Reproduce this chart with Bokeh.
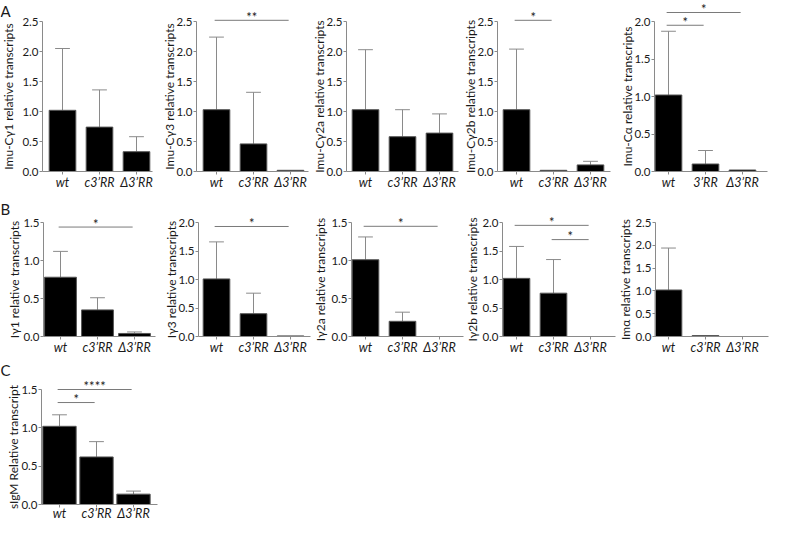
import numpy as np
from bokeh.plotting import figure
from bokeh.layouts import column, row
from bokeh.models import Range1d, FixedTicker, Label, PrintfTickFormatter
from bokeh.core.properties import value
from bokeh.embed import file_html
from bokeh.resources import INLINE

# ---------------- data ----------------
groups = ["wt", "c3\u2019RR", "\u03943\u2019RR"]
groups_alpha = ["wt", "3\u2019RR", "\u03943\u2019RR"]

imu_cg1_mean = [1.02, 0.74, 0.33]
imu_cg1_err = [1.03, 0.62, 0.25]
imu_cg3_mean = [1.03, 0.46, 0.02]
imu_cg3_err = [1.21, 0.86, 0.0]
imu_cg2a_mean = [1.03, 0.58, 0.64]
imu_cg2a_err = [1.00, 0.45, 0.32]
imu_cg2b_mean = [1.03, 0.02, 0.11]
imu_cg2b_err = [1.01, 0.0, 0.06]
imu_ca_mean = [1.02, 0.10, 0.02]
imu_ca_err = [0.85, 0.18, 0.0]

ig1_mean = [0.78, 0.35, 0.04]
ig1_err = [0.34, 0.16, 0.02]
ig3_mean = [1.01, 0.40, 0.01]
ig3_err = [0.65, 0.36, 0.0]
ig2a_mean = [1.01, 0.20, 0.0]
ig2a_err = [0.30, 0.12, 0.0]
ig2b_mean = [1.02, 0.76, 0.0]
ig2b_err = [0.56, 0.59, 0.0]
ima_mean = [1.02, 0.02, 0.0]
ima_err = [0.92, 0.0, 0.0]

sigm_mean = [1.02, 0.62, 0.135]
sigm_err = [0.15, 0.20, 0.04]

# significance brackets: (from group, to group, height, label)
imu_cg3_sig = [(0, 2, 2.52, "**")]
imu_cg2b_sig = [(0, 1, 2.52, "*")]
imu_ca_sig = [(0, 1, 1.95, "*"), (0, 2, 2.12, "*")]
ig1_sig = [(0, 2, 1.44, "*")]
ig3_sig = [(0, 2, 1.93, "*")]
ig2a_sig = [(0, 2, 1.45, "*")]
ig2b_sig = [(0, 2, 1.95, "*"), (1, 2, 1.70, "*")]
ima_sig = []
sigm_sig = [(0, 1, 1.33, "*"), (0, 2, 1.50, "****")]

FONT = "Lato"
ERR_COLOR = "#8a8a8a"
AXIS_COLOR = "#8a8a8a"
TEXT_COLOR = "#1a1a1a"
PX_PER_GROUP = 37.0
STAR_LIFT_PX = 5.5

# geometry of each row (pixels in the picture)
ROW_A = dict(top=0, bottom=194, zero=171, toptick=21, xstand=0)
ROW_B = dict(top=194, bottom=360, zero=336, toptick=222, xstand=0)
ROW_C = dict(top=360, bottom=523, zero=504, toptick=389, xstand=-2)


def panel(ylabel, cats, mean, err, sigs, ytop, ystep, rw,
          left, right, axis_px, c0_px, end_px, barw,
          label_standoff=0, letter=None, letter_top=0):
    width = right - left
    height = rw["bottom"] - rw["top"]
    ppu = (rw["zero"] - rw["toptick"]) / ytop
    ystart = -(rw["bottom"] - rw["zero"]) / ppu
    yend = (rw["zero"] - rw["top"]) / ppu
    xstart = -(c0_px - left) / PX_PER_GROUP
    xend = xstart + width / PX_PER_GROUP
    axis_x = (axis_px - c0_px) / PX_PER_GROUP
    x_end_axis = (end_px - c0_px) / PX_PER_GROUP

    p = figure(width=width, height=height, title=None,
               x_range=Range1d(xstart, xend), y_range=Range1d(ystart, yend),
               output_backend="svg", toolbar_location=None, min_border=0)
    p.outline_line_color = None
    p.xgrid.visible = False
    p.ygrid.visible = False
    p.background_fill_color = None
    p.border_fill_color = None

    xs = list(range(len(cats)))
    ex = [x for x, e in zip(xs, err) if e > 0]
    eb = [m for m, e in zip(mean, err) if e > 0]
    et = [m + e for m, e in zip(mean, err) if e > 0]
    capw = 0.2
    p.segment(ex, eb, ex, et, line_color=ERR_COLOR, line_width=1)
    p.segment([x - capw for x in ex], et, [x + capw for x in ex], et,
              line_color=ERR_COLOR, line_width=1)
    p.vbar(x=xs, top=mean, bottom=0, width=barw,
           fill_color="black", line_color="#555555", line_width=1)

    for (i, j, h, lab) in sigs:
        p.segment([i - 0.05], [h], [j - 0.05], [h], line_color="#7a7a7a", line_width=1)
        p.text(x=[(i + j) / 2 - 0.05], y=[h + STAR_LIFT_PX / ppu], text=[lab], text_align="center",
               text_baseline="alphabetic", y_offset=2, text_font=value(FONT),
               text_font_size="13px", text_color=TEXT_COLOR)

    xa = p.xaxis[0]
    xa.fixed_location = 0
    xa.bounds = (axis_x, x_end_axis)
    xa.ticker = FixedTicker(ticks=xs)
    xa.major_label_overrides = {x: c for x, c in zip(xs, cats)}
    xa.major_label_text_font = FONT
    xa.major_label_text_font_style = "italic"
    xa.major_label_text_font_size = "12.5px"
    xa.major_label_text_color = TEXT_COLOR
    xa.major_label_standoff = rw["xstand"]
    xa.major_tick_in = 0
    xa.major_tick_out = 3
    xa.minor_tick_out = 0
    xa.minor_tick_in = 0
    xa.axis_line_color = AXIS_COLOR
    xa.major_tick_line_color = AXIS_COLOR

    ya = p.yaxis[0]
    ya.fixed_location = axis_x
    ya.bounds = (0, ytop)
    ya.ticker = FixedTicker(ticks=list(np.arange(0, ytop + 1e-9, ystep)))
    ya.formatter = PrintfTickFormatter(format="%.1f")
    ya.major_label_text_font = FONT
    ya.major_label_text_font_size = "11.5px"
    ya.major_label_text_color = TEXT_COLOR
    ya.major_label_standoff = 1
    ya.major_tick_in = 0
    ya.major_tick_out = 3
    ya.minor_tick_out = 0
    ya.minor_tick_in = 0
    ya.axis_line_color = AXIS_COLOR
    ya.major_tick_line_color = AXIS_COLOR
    ya.axis_label = ylabel
    ya.axis_label_text_font = FONT
    ya.axis_label_text_font_style = "normal"
    ya.axis_label_text_font_size = "12px"
    ya.axis_label_text_color = TEXT_COLOR
    ya.axis_label_standoff = label_standoff

    if letter:
        p.add_layout(Label(x=0, y=height - letter_top, x_units="screen", y_units="screen",
                           text=letter, text_baseline="top", text_align="left",
                           text_font=FONT, text_font_size="15px",
                           text_color=TEXT_COLOR))
    return p


a1 = panel("Imu-C\u03b31 relative transcripts", groups, imu_cg1_mean, imu_cg1_err, [], 2.5, 0.5, ROW_A,
           8, 166, 50, 70, 160, 0.72, label_standoff=3, letter="A", letter_top=1)
a2 = panel("Imu-C\u03b33 relative transcripts", groups, imu_cg3_mean, imu_cg3_err, imu_cg3_sig, 2.5, 0.5, ROW_A,
           166, 317, 204, 224, 316, 0.72, label_standoff=-4)
a3 = panel("Imu-C\u03b32a relative transcripts", groups, imu_cg2a_mean, imu_cg2a_err, [], 2.5, 0.5, ROW_A,
           317, 468, 354, 373, 466, 0.72, label_standoff=-4)
a4 = panel("Imu-C\u03b32b relative transcripts", groups, imu_cg2b_mean, imu_cg2b_err, imu_cg2b_sig, 2.5, 0.5, ROW_A,
           468, 621, 505, 524, 618, 0.72, label_standoff=-4)
a5 = panel("Imu-C\u03b1 relative transcripts", groups_alpha, imu_ca_mean, imu_ca_err, imu_ca_sig, 2.0, 0.5, ROW_A,
           621, 788, 662, 676, 775, 0.72, label_standoff=-4)

b1 = panel("I\u03b31 relative transcripts", groups, ig1_mean, ig1_err, ig1_sig, 1.5, 0.5, ROW_B,
           8, 166, 51, 68, 163, 0.86, label_standoff=-2, letter="B", letter_top=5)
b2 = panel("I\u03b33 relative transcripts", groups, ig3_mean, ig3_err, ig3_sig, 2.0, 0.5, ROW_B,
           166, 320, 206, 224, 318, 0.72, label_standoff=-4)
b3 = panel("I\u03b32a relative transcripts", groups, ig2a_mean, ig2a_err, ig2a_sig, 1.5, 0.5, ROW_B,
           320, 472, 359, 373, 471, 0.72, label_standoff=0)
b4 = panel("I\u03b32b relative transcripts", groups, ig2b_mean, ig2b_err, ig2b_sig, 2.0, 0.5, ROW_B,
           472, 625, 510, 524, 623, 0.72, label_standoff=-1)
b5 = panel("Im\u03b1 relative transcripts", groups, ima_mean, ima_err, ima_sig, 2.5, 0.5, ROW_B,
           625, 788, 663, 676, 776, 0.72, label_standoff=-1)

c1 = panel("sIgM Relative transcript", groups, sigm_mean, sigm_err, sigm_sig, 1.5, 0.5, ROW_C,
           8, 180, 49, 67, 165, 0.90, label_standoff=-3, letter="C", letter_top=0)

layout = column(row(a1, a2, a3, a4, a5), row(b1, b2, b3, b4, b5), row(c1))

open("out.html", "w").write(file_html(layout, INLINE))
